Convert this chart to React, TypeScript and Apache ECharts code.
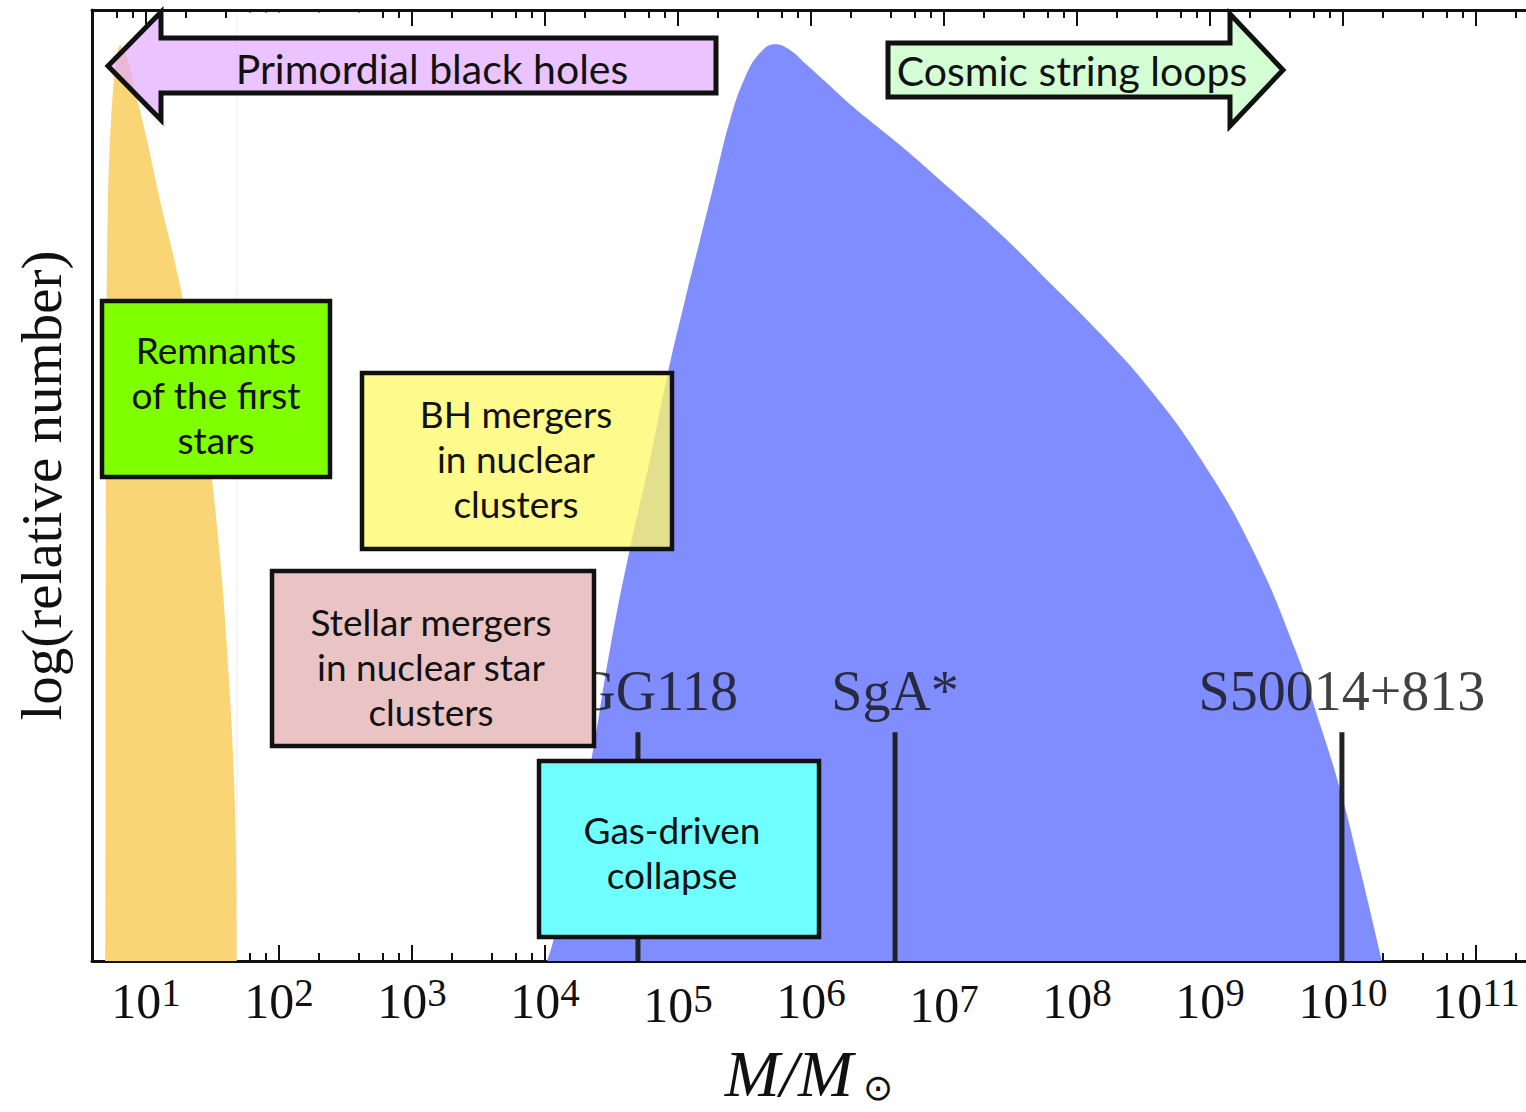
import React, { useEffect, useRef } from "react";
import * as echarts from "echarts";

// x axis is log10(M / M_sun)
const X_MIN = 0.594;
const X_MAX = 11.376;
const decadeTicks = [1, 2, 3, 4, 5, 6, 7, 8, 9, 10, 11];
const minorMultipliers = [2, 4, 6, 8];

// Orange peak: remnants of the first stars
const orangeLogM = [0.6955, 0.699, 0.714, 0.737, 0.767, 0.805, 0.85, 0.917, 1.008, 1.105, 1.195, 1.278, 1.406, 1.496, 1.571, 1.624, 1.662, 1.68, 1.684];
const orangeLevel = [0, 0.59, 0.8, 0.884, 0.937, 0.963, 0.953, 0.916, 0.863, 0.8, 0.748, 0.695, 0.59, 0.506, 0.401, 0.296, 0.191, 0.086, 0];

// Blue distribution: massive black holes
const blueLogM = [4.015, 4.06, 4.188, 4.353, 4.489, 4.639, 4.789, 4.925, 5.053, 5.165, 5.278, 5.391, 5.504, 5.617, 5.729, 5.842, 5.955, 6.105, 6.293, 6.669, 7.045, 7.421, 7.797, 8.173, 8.549, 8.925, 9.301, 9.639, 9.827, 9.977, 10.128, 10.293];
const blueLevel = [0, 0.02, 0.097, 0.215, 0.328, 0.434, 0.527, 0.619, 0.695, 0.758, 0.821, 0.884, 0.929, 0.955, 0.964, 0.958, 0.944, 0.925, 0.901, 0.858, 0.812, 0.765, 0.713, 0.66, 0.601, 0.529, 0.438, 0.328, 0.249, 0.181, 0.097, 0];

// Individual black holes
const markerNames = ["RGG118", "SgA*", "S50014+813"];
const markerLogM = [4.699, 6.632, 9.992];
const markerTop = [0.2405, 0.2405, 0.2405];

const minorTicks: number[] = [];
for (let n = 0; n <= 11; n++) {
  for (const k of minorMultipliers) {
    const v = n + Math.log10(k);
    if (v > X_MIN && v < X_MAX) minorTicks.push(v);
  }
}

const BOX_FONT = "Lato";
const boxes = [
  { x: 102, y: 301, w: 228, h: 176, fill: "rgb(128,255,0)", text: "Remnants\nof the first\nstars", tx: 216, ty: 394 },
  { x: 362, y: 373, w: 310, h: 176, fill: "rgba(255,248,106,0.77)", text: "BH mergers\nin nuclear\nclusters", tx: 516, ty: 458 },
  { x: 272, y: 571, w: 322, h: 175, fill: "rgb(234,196,196)", text: "Stellar mergers\nin nuclear star\nclusters", tx: 431, ty: 666 },
  { x: 539, y: 761, w: 280, h: 176, fill: "rgb(112,255,255)", text: "Gas-driven\ncollapse", tx: 672, ty: 852 },
];

const serif = "Liberation Serif";

function buildOption() {
  const tickLine = { color: "#111", width: 2 };
  const xCommon = { type: "value", min: X_MIN, max: X_MAX, splitLine: { show: false } };
  const textStyle = (text: string, size: number) => ({
    text, fill: "#111", fontFamily: BOX_FONT, fontSize: size, lineHeight: 45,
    align: "center", verticalAlign: "middle", textAlign: "center", textVerticalAlign: "middle",
  });
  const graphics: any[] = [];
  graphics.push({ type: "line", z: 50, shape: { x1: 237, y1: 12, x2: 237, y2: 960 }, style: { stroke: "#ececec", lineWidth: 1 } });
  graphics.push({ type: "rect", z: 60, shape: { x: 237.5, y: 12.5, width: 126, height: 22 }, style: { fill: "#fff" } });
  boxes.forEach((b) => {
    graphics.push({ type: "rect", z: 100, shape: { x: b.x, y: b.y, width: b.w, height: b.h }, style: { fill: b.fill, stroke: "#111", lineWidth: 4.5 } });
    graphics.push({ type: "text", z: 101, x: b.tx, y: b.ty, style: textStyle(b.text, 37) });
  });
  graphics.push({
    type: "polygon", z: 100,
    shape: { points: [[108, 66], [161, 12], [161, 38], [716, 38], [716, 93], [161, 93], [161, 120]] },
    style: { fill: "rgba(226,169,255,0.7)", stroke: "#111", lineWidth: 5, lineJoin: "miter" },
  });
  graphics.push({ type: "text", z: 101, x: 432, y: 68, style: textStyle("Primordial black holes", 41) });
  graphics.push({
    type: "polygon", z: 100,
    shape: { points: [[888, 43], [1230, 43], [1230, 14], [1283, 70], [1230, 126], [1230, 97], [888, 97]] },
    style: { fill: "rgb(212,255,212)", stroke: "#111", lineWidth: 5, lineJoin: "miter" },
  });
  graphics.push({ type: "text", z: 101, x: 1072, y: 70, style: textStyle("Cosmic string loops", 41) });

  const series: any[] = [
    {
      type: "line", data: orangeLogM.map((x, i) => [x, orangeLevel[i]]), smooth: 0.3, symbol: "none",
      lineStyle: { width: 0 }, areaStyle: { color: "rgb(250,213,118)", opacity: 1 }, z: 1, silent: true,
    },
    {
      type: "line", data: blueLogM.map((x, i) => [x, blueLevel[i]]), smooth: 0.45, symbol: "none",
      lineStyle: { width: 0 }, areaStyle: { color: "rgb(128,141,255)", opacity: 1 }, z: 1, silent: true,
    },
  ];
  markerLogM.forEach((x, i) => {
    series.push({ type: "line", data: [[x, 0], [x, markerTop[i]]], symbol: "none", lineStyle: { color: "#222", width: 5 }, z: 3 });
  });
  series.push({
    type: "scatter", symbolSize: 1, itemStyle: { color: "rgba(0,0,0,0)" }, z: 3,
    data: markerNames.map((n, i) => ({ name: n, value: [markerLogM[i], markerTop[i]] })),
    label: { show: true, position: "top", distance: 13, formatter: "{b}", fontFamily: serif, fontSize: 56, color: "#111" },
  });

  return {
    animation: false,
    backgroundColor: "#fff",
    grid: { left: 92, right: 0, top: 10, bottom: 151, containLabel: false, outerBoundsMode: "none" },
    xAxis: [
      {
        ...xCommon, position: "bottom",
        axisLine: { show: true, onZero: false, lineStyle: { color: "#111", width: 3 } },
        axisTick: { show: true, inside: true, length: 16, customValues: decadeTicks, lineStyle: tickLine },
        axisLabel: {
          show: true, margin: 12, customValues: decadeTicks,
          formatter: (v: number) => {
            const n = Math.round(v);
            return n === 5 || n === 7 ? `{bl|10}{sl|${n}}` : `{b|10}{s|${n}}`;
          },
          rich: {
            b: { fontFamily: serif, fontSize: 50, color: "#111", lineHeight: 56 },
            s: { fontFamily: serif, fontSize: 39, color: "#111", lineHeight: 32, verticalAlign: "top" },
            bl: { fontFamily: serif, fontSize: 50, color: "#111", lineHeight: 56, padding: [8, 0, 0, 0] },
            sl: { fontFamily: serif, fontSize: 39, color: "#111", lineHeight: 32, verticalAlign: "top", padding: [6, 0, 0, 0] },
          },
        },
        name: "{i|M/M}{o|⊙}", nameLocation: "middle", nameGap: 80,
        nameTextStyle: {
          rich: {
            i: { fontFamily: serif, fontStyle: "italic", fontSize: 66, color: "#111", lineHeight: 64 },
            o: { fontFamily: "DejaVu Sans", fontSize: 36, color: "#111", lineHeight: 26, verticalAlign: "bottom", padding: [0, 0, 0, 10] },
          },
        },
      },
      {
        ...xCommon, position: "bottom",
        axisLine: { show: false, onZero: false },
        axisTick: { show: true, inside: true, length: 8, customValues: minorTicks, lineStyle: tickLine },
        axisLabel: { show: false },
      },
      {
        ...xCommon, position: "top",
        axisLine: { show: true, onZero: false, lineStyle: { color: "#111", width: 3 } },
        axisTick: { show: true, inside: true, length: 16, customValues: decadeTicks, lineStyle: tickLine },
        axisLabel: { show: false },
      },
      {
        ...xCommon, position: "top",
        axisLine: { show: false, onZero: false },
        axisTick: { show: true, inside: true, length: 8, customValues: minorTicks, lineStyle: tickLine },
        axisLabel: { show: false },
      },
    ],
    yAxis: {
      type: "value", min: 0, max: 1,
      axisLine: { show: true, onZero: false, lineStyle: { color: "#111", width: 3 } },
      axisTick: { show: false }, axisLabel: { show: false }, splitLine: { show: false },
      name: "log(relative number)", nameLocation: "middle", nameRotate: 90, nameGap: 22,
      nameTextStyle: { fontFamily: serif, fontSize: 57, color: "#111" },
    },
    series,
    graphic: { elements: graphics },
  };
}

export default function App() {
  const ref = useRef<HTMLDivElement>(null);
  useEffect(() => {
    document.body.style.margin = "0";
    const chart = echarts.init(ref.current!, null, { renderer: "svg" });
    chart.setOption(buildOption() as any);
    return () => chart.dispose();
  }, []);
  return <div ref={ref} style={{ width: 1526, height: 1112 }} />;
}
